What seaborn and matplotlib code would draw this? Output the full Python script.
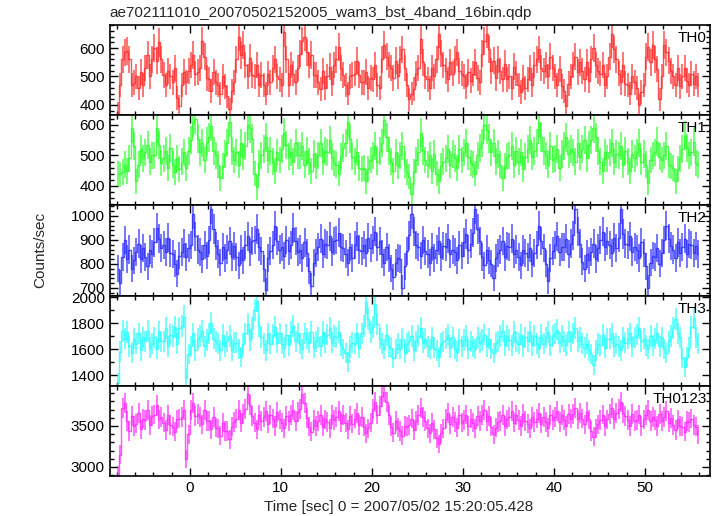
import numpy as np
import pandas as pd
import matplotlib
matplotlib.use("Agg")
import matplotlib.pyplot as plt
import seaborn as sns
from matplotlib.ticker import MultipleLocator

# ---------------- data (count rate, counts/sec, 0.25 s bins starting at t=-8 s) ----------------
BIN = 0.25
T_START = -8.0

TH0 = [
    372, 470, 560, 585,  590, 560, 470, 478,  500, 460, 515, 470,  530, 575, 500, 560,
    600, 555, 620, 560,  505, 470, 520, 500,  480, 530, 425, 395,  470, 515, 480, 520,
    540, 575, 510, 515,  530, 625, 570, 495,  490, 450, 515, 480,  470, 440, 500, 465,
    430, 385, 450, 480,  560, 640, 575, 610,  540, 500, 565, 505,  500, 540, 470, 505,
    470, 440, 510, 480,  530, 560, 500, 490,  470, 655, 560, 470,  540, 510, 480, 530,
    580, 625, 640, 585,  540, 575, 505, 505,  480, 455, 520, 460,  500, 535, 475, 540,
    560, 605, 530, 505,  470, 440, 500, 505,  510, 555, 505, 480,  480, 515, 460, 495,
    490, 540, 470, 460,  560, 610, 570, 540,  530, 495, 555, 500,  560, 595, 530, 470,
    420, 440, 455, 510,  530, 630, 550, 500,  490, 460, 530, 500,  560, 650, 580, 540,
    520, 490, 550, 510,  560, 585, 520, 510,  500, 465, 515, 485,  510, 550, 495, 480,
    580, 625, 650, 595,  520, 555, 495, 560,  520, 490, 545, 490,  500, 460, 535, 510,
    470, 445, 495, 460,  490, 530, 470, 540,  560, 595, 530, 520,  540, 500, 570, 530,
    500, 470, 525, 465,  450, 395, 475, 500,  540, 570, 515, 550,  520, 490, 550, 485,
    560, 600, 540, 520,  510, 540, 470, 500,  570, 650, 595, 560,  510, 480, 540, 475,
    470, 440, 500, 480,  460, 400, 445, 470,  570, 605, 550, 610,  560, 525, 420, 500,
    610, 585, 555, 520,  500, 470, 530, 465,  500, 530, 485, 470,  510, 475, 500, 470,
]

TH1 = [
    440, 438, 445, 470,  450, 490, 590, 530,  415, 470, 520, 490,  510, 535, 480, 500,
    500, 590, 535, 475,  490, 515, 460, 525,  470, 445, 490, 455,  480, 510, 460, 515,
    550, 610, 620, 555,  510, 540, 485, 545,  560, 595, 515, 500,  470, 425, 465, 505,
    540, 610, 515, 485,  510, 470, 540, 495,  530, 600, 590, 555,  440, 395, 475, 500,
    520, 560, 485, 515,  480, 450, 510, 485,  520, 575, 535, 495,  510, 480, 540, 500,
    500, 530, 470, 515,  480, 450, 505, 465,  500, 540, 480, 515,  510, 550, 495, 475,
    470, 440, 495, 525,  540, 610, 555, 495,  480, 510, 460, 455,  460, 415, 455, 485,
    500, 530, 480, 515,  540, 615, 560, 515,  480, 450, 510, 465,  500, 530, 470, 445,
    430, 372, 445, 485,  510, 575, 515, 485,  470, 500, 450, 505,  440, 415, 465, 480,
    490, 520, 470, 505,  490, 460, 520, 485,  510, 540, 495, 475,  470, 440, 500, 525,
    540, 600, 585, 555,  510, 540, 480, 505,  470, 425, 465, 495,  500, 530, 470, 515,
    480, 510, 455, 495,  520, 550, 495, 515,  540, 610, 560, 515,  500, 470, 530, 485,
    490, 520, 460, 505,  530, 560, 505, 520,  510, 480, 540, 495,  520, 550, 490, 535,
    550, 590, 560, 515,  480, 450, 510, 490,  510, 540, 480, 505,  500, 530, 470, 515,
    480, 450, 505, 490,  510, 540, 480, 505,  470, 410, 485, 500,  510, 545, 495, 485,
    500, 530, 470, 465,  460, 415, 455, 490,  520, 565, 525, 500,  510, 545, 475, 470,
]

TH2 = [
    780, 720, 830, 900,  820, 860, 780, 815,  850, 885, 820, 865,  830, 790, 860, 840,
    890, 950, 905, 865,  880, 850, 910, 845,  840, 800, 760, 835,  850, 885, 830, 865,
    880, 1010, 915, 860,  850, 820, 880, 835,  900, 1030, 945, 875,  840, 805, 870, 825,
    860, 895, 830, 875,  830, 795, 860, 815,  880, 915, 850, 895,  900, 945, 870, 855,
    780, 690, 825, 855,  880, 960, 895, 860,  870, 835, 900, 855,  880, 950, 895, 850,
    860, 825, 890, 845,  770, 710, 805, 845,  870, 905, 840, 885,  880, 915, 850, 895,
    900, 930, 870, 865,  840, 805, 870, 825,  880, 915, 860, 855,  880, 845, 910, 865,
    900, 935, 870, 895,  840, 805, 870, 825,  780, 745, 805, 825,  820, 700, 790, 855,
    920, 1010, 935, 880,  870, 835, 900, 855,  840, 805, 870, 825,  860, 895, 830, 875,
    870, 905, 840, 860,  850, 815, 880, 835,  890, 925, 860, 885,  930, 1030, 945, 895,
    830, 795, 860, 815,  800, 740, 825, 845,  860, 895, 830, 875,  870, 905, 840, 860,
    830, 795, 860, 845,  830, 865, 800, 845,  880, 960, 895, 865,  800, 730, 825, 855,
    880, 915, 850, 870,  870, 905, 840, 885,  920, 1030, 935, 885,  810, 780, 840, 815,
    850, 885, 820, 865,  900, 935, 870, 895,  880, 845, 910, 865,  910, 1030, 925, 885,
    880, 915, 850, 870,  860, 825, 890, 845,  790, 700, 805, 835,  830, 865, 800, 845,
    900, 960, 905, 875,  860, 825, 890, 845,  870, 905, 840, 885,  880, 845, 875, 840,
]

TH3 = [
    1340, 1580, 1740, 1680,  1730, 1620, 1570, 1680,  1640, 1720, 1590, 1690,  1660, 1740, 1610, 1640,
    1690, 1600, 1730, 1660,  1660, 1760, 1620, 1710,  1700, 1770, 1640, 1760,  1780, 1850, 1380, 1560,
    1620, 1720, 1590, 1680,  1700, 1740, 1620, 1670,  1720, 1800, 1680, 1660,  1640, 1590, 1710, 1620,
    1660, 1700, 1590, 1650,  1650, 1600, 1540, 1640,  1720, 1790, 1670, 1760,  1900, 1970, 1780, 1690,
    1640, 1590, 1720, 1640,  1710, 1770, 1650, 1720,  1640, 1610, 1710, 1630,  1730, 1780, 1660, 1720,
    1640, 1600, 1720, 1680,  1650, 1730, 1610, 1660,  1690, 1620, 1730, 1650,  1710, 1760, 1650, 1700,
    1690, 1730, 1630, 1600,  1570, 1500, 1620, 1650,  1640, 1720, 1610, 1720,  1780, 1960, 1830, 1730,
    1770, 1950, 1790, 1680,  1640, 1600, 1710, 1620,  1610, 1530, 1600, 1640,  1600, 1680, 1570, 1640,
    1660, 1700, 1590, 1660,  1700, 1760, 1650, 1680,  1620, 1600, 1690, 1610,  1590, 1540, 1640, 1660,
    1680, 1710, 1610, 1690,  1600, 1580, 1670, 1620,  1670, 1700, 1600, 1660,  1620, 1600, 1690, 1650,
    1670, 1710, 1620, 1680,  1600, 1570, 1650, 1660,  1700, 1740, 1630, 1700,  1670, 1630, 1730, 1660,
    1640, 1710, 1620, 1690,  1660, 1730, 1630, 1700,  1640, 1610, 1710, 1640,  1690, 1730, 1630, 1700,
    1720, 1750, 1650, 1700,  1660, 1630, 1730, 1660,  1720, 1760, 1660, 1690,  1640, 1610, 1640, 1590,
    1560, 1480, 1590, 1640,  1630, 1710, 1610, 1680,  1680, 1720, 1620, 1640,  1620, 1590, 1690, 1650,
    1680, 1720, 1620, 1690,  1710, 1760, 1660, 1680,  1630, 1600, 1700, 1630,  1680, 1720, 1620, 1690,
    1600, 1570, 1660, 1700,  1760, 1830, 1720, 1690,  1530, 1460, 1540, 1610,  1770, 1840, 1690, 1640,
]

TH0123 = [
    2900, 3150, 3720, 3780,  3560, 3440, 3620, 3500,  3530, 3660, 3460, 3590,  3570, 3690, 3510, 3620,
    3640, 3760, 3580, 3610,  3540, 3450, 3630, 3510,  3490, 3430, 3580, 3590,  3610, 3700, 3100, 3400,
    3690, 3780, 3620, 3650,  3610, 3520, 3690, 3560,  3560, 3460, 3610, 3480,  3470, 3380, 3540, 3440,
    3440, 3340, 3490, 3550,  3590, 3700, 3540, 3650,  3710, 3890, 3760, 3620,  3540, 3460, 3630, 3560,
    3610, 3680, 3530, 3640,  3590, 3500, 3670, 3580,  3540, 3470, 3620, 3560,  3630, 3700, 3560, 3670,
    3710, 3890, 3780, 3600,  3490, 3430, 3570, 3500,  3560, 3630, 3490, 3580,  3550, 3470, 3630, 3570,
    3610, 3680, 3540, 3630,  3540, 3460, 3620, 3530,  3590, 3660, 3510, 3610,  3490, 3410, 3470, 3540,
    3710, 3790, 3640, 3740,  3860, 3920, 3790, 3630,  3490, 3420, 3560, 3480,  3440, 3380, 3500, 3490,
    3510, 3590, 3450, 3560,  3630, 3720, 3610, 3560,  3470, 3410, 3540, 3460,  3350, 3280, 3410, 3470,
    3590, 3660, 3520, 3610,  3550, 3480, 3630, 3540,  3570, 3640, 3500, 3590,  3540, 3470, 3620, 3560,
    3630, 3700, 3560, 3620,  3490, 3400, 3480, 3550,  3560, 3630, 3500, 3580,  3610, 3680, 3540, 3630,
    3570, 3500, 3650, 3560,  3530, 3470, 3610, 3550,  3590, 3660, 3530, 3610,  3550, 3480, 3630, 3570,
    3610, 3680, 3550, 3630,  3570, 3500, 3650, 3590,  3650, 3720, 3580, 3660,  3590, 3520, 3670, 3580,
    3440, 3370, 3470, 3520,  3570, 3640, 3500, 3580,  3650, 3720, 3580, 3660,  3710, 3790, 3660, 3620,
    3570, 3500, 3650, 3560,  3570, 3640, 3500, 3580,  3630, 3700, 3560, 3610,  3570, 3500, 3650, 3560,
    3610, 3680, 3540, 3600,  3510, 3450, 3580, 3500,  3490, 3430, 3560, 3550,  3590, 3510, 3490, 3400,
]

PANEL_NAMES = ["TH0", "TH1", "TH2", "TH3", "TH0123"]
PANEL_DATA = [TH0, TH1, TH2, TH3, TH0123]
PANEL_COLORS = ["#ff2a2a", "#2aff2a", "#2a2aff", "#2affff", "#ff2aff"]
PANEL_YLIM = [(364, 681), (336, 632), (668, 1044), (1317, 2011), (2890, 3990)]
PANEL_YMAJOR = [100, 100, 100, 200, 500]
PANEL_YMINOR = [20, 20, 20, 100, 100]
XLIM = (-8.79, 57.14)
TITLE = "ae702111010_20070502152005_wam3_bst_4band_16bin.qdp"
XLABEL = "Time [sec] 0 = 2007/05/02 15:20:05.428"
YLABEL = "Counts/sec"

# ---------------- style ----------------
sns.set_theme(style="ticks")
plt.rcParams["font.family"] = ["Liberation Sans", "DejaVu Sans"]
plt.rcParams["font.size"] = 11

fig, axes = plt.subplots(5, 1, sharex=True, figsize=(7.17, 5.16), dpi=100,
                         gridspec_kw={"hspace": 0})
fig.subplots_adjust(left=0.153, right=0.990, top=0.9516, bottom=0.0775)

for ax, name, vals, col, ylim, ymaj, ymin in zip(
        axes, PANEL_NAMES, PANEL_DATA, PANEL_COLORS, PANEL_YLIM, PANEL_YMAJOR, PANEL_YMINOR):
    v = np.asarray(vals, dtype=float)
    t = T_START + BIN / 2 + BIN * np.arange(len(v))
    err = np.sqrt(v / BIN)  # Poisson error of a rate in BIN-second bins
    df = pd.DataFrame({"time": t, "rate": v})
    sns.lineplot(data=df, x="time", y="rate", ax=ax, color=col, lw=1.0,
                 drawstyle="steps-mid", alpha=0.8)
    ax.errorbar(t, v, yerr=err, fmt="none", ecolor=col, elinewidth=1.2,
                alpha=0.75, capsize=0)
    ax.set_ylim(*ylim)
    ax.set_xlim(*XLIM)
    ax.yaxis.set_major_locator(MultipleLocator(ymaj))
    ax.yaxis.set_minor_locator(MultipleLocator(ymin))
    ax.xaxis.set_major_locator(MultipleLocator(10))
    ax.xaxis.set_minor_locator(MultipleLocator(2))
    ax.tick_params(which="both", direction="in", top=True, right=True,
                   labelsize=11, colors="black", width=1.0)
    ax.tick_params(which="major", length=6)
    ax.tick_params(which="minor", length=3)
    ax.set_xlabel("")
    ax.set_ylabel("")
    for s in ax.spines.values():
        s.set_linewidth(1.2)
        s.set_color("black")
    ax.text(0.995, 0.855, name, transform=ax.transAxes, ha="right", va="center",
            fontsize=11, color="black")

fig.text(0.153, 0.975, TITLE, ha="left", va="center", fontsize=11)
fig.text(0.556, 0.018, XLABEL, ha="center", va="center", fontsize=11)
fig.text(0.056, 0.515, YLABEL, ha="center", va="center", rotation=90, fontsize=11)

fig.savefig("out.png", dpi=100, facecolor="white")
